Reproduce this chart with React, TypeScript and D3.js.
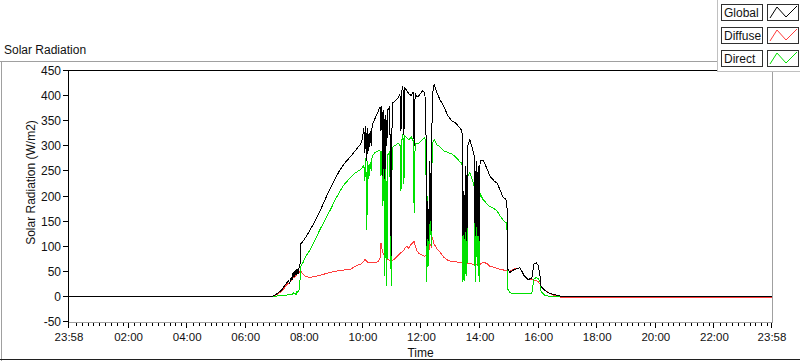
import React from 'react'
import * as d3 from 'd3'

// sample times, first entry 23:58 belongs to the previous day
const times = [
  '23:58', '06:50', '06:56', '07:00', '07:05', '07:10', '07:15', '07:20', '07:24', '07:27',
  '07:30', '07:33', '07:35', '07:37', '07:39', '07:41', '07:43', '07:45', '07:47', '07:49',
  '07:51', '07:53', '07:57', '08:03', '08:12', '08:22', '08:32', '08:42', '08:53', '09:03',
  '09:13', '09:23', '09:34', '09:44', '09:54', '09:58', '10:02', '10:04', '10:06', '10:08',
  '10:10', '10:12', '10:15', '10:17', '10:19', '10:25', '10:31', '10:35', '10:37', '10:39',
  '10:41', '10:43', '10:45', '10:47', '10:49', '10:51', '10:55', '10:58', '11:00', '11:04',
  '11:08', '11:12', '11:16', '11:18', '11:20', '11:22', '11:24', '11:26', '11:30', '11:34',
  '11:39', '11:43', '11:45', '11:47', '11:51', '11:55', '11:59', '12:03', '12:07', '12:09',
  '12:11', '12:13', '12:15', '12:17', '12:20', '12:22', '12:26', '12:32', '12:38', '12:46',
  '12:54', '13:02', '13:11', '13:19', '13:23', '13:25', '13:27', '13:29', '13:31', '13:33',
  '13:35', '13:39', '13:43', '13:48', '13:50', '13:52', '13:54', '13:56', '13:58', '14:00',
  '14:06', '14:14', '14:20', '14:29', '14:35', '14:41', '14:47', '14:51', '14:55', '14:57',
  '15:01', '15:07', '15:16', '15:22', '15:30', '15:38', '15:42', '15:46', '15:50', '15:55',
  '15:59', '16:03', '16:05', '16:13', '16:19', '16:27', '16:36', '16:44', '16:54', '23:58',
]

const globalRad = [
  0, 0, 1, 3, 6, 10, 15, 22, 27, 32,
  26, 38, 32, 48, 38, 52, 42, 54, 44, 56,
  60, 105, 110, 118, 133, 150, 170, 192, 215, 235,
  252, 266, 278, 290, 302, 310, 335, 285, 340, 270,
  335, 290, 330, 300, 342, 355, 368, 378, 330, 380,
  240, 372, 235, 362, 300, 372, 378, 80, 385, 388,
  392, 396, 402, 330, 410, 420, 322, 415, 410, 404,
  400, 408, 300, 405, 398, 400, 406, 410, 404, 360,
  100, 190, 110, 270, 130, 400, 422, 405, 392, 378,
  360, 350, 345, 335, 330, 120, 210, 115, 260, 110,
  300, 312, 300, 280, 120, 270, 120, 260, 110, 270,
  272, 255, 240, 230, 226, 212, 198, 195, 190, 54,
  48, 52, 56, 57, 42, 34, 35, 36, 64, 67,
  62, 40, 20, 12, 8, 5, 3, 1, 0, 0,
]

const diffuseRad = [
  0, 0, 1, 2, 5, 8, 12, 18, 24, 26,
  28, 32, 36, 40, 38, 40, 42, 46, 46, 48,
  50, 50, 45, 40, 38, 40, 42, 45, 48, 50,
  52, 53, 54, 60, 64, 66, 70, 74, 72, 70,
  68, 67, 67, 67, 67, 67, 70, 75, 107, 95,
  87, 84, 80, 78, 76, 74, 72, 78, 72, 74,
  78, 82, 86, 88, 88, 90, 92, 96, 100, 96,
  104, 108, 110, 102, 90, 86, 84, 82, 80, 82,
  78, 127, 90, 104, 100, 118, 104, 95, 88, 78,
  72, 70, 69, 68, 67, 66, 66, 65, 66, 65,
  66, 66, 65, 64, 64, 64, 64, 64, 64, 64,
  68, 66, 60, 58, 56, 54, 53, 52, 52, 52,
  50, 54, 56, 57, 42, 34, 34, 34, 33, 32,
  30, 24, 19, 13, 8, 4, 1, -1, -2, -2,
]

const directRad = [
  0, 0, 0, 0, 1, 1, 2, 2, 3, 4,
  3, 5, 4, 8, 5, 6, 4, 10, 8, 12,
  30, 60, 67, 80, 93, 113, 133, 152, 172, 192,
  210, 225, 236, 246, 252, 255, 262, 230, 275, 133,
  270, 235, 268, 250, 280, 287, 290, 292, 240, 290,
  180, 282, 40, 275, 20, 282, 288, 20, 297, 300,
  302, 305, 302, 210, 312, 323, 225, 320, 316, 312,
  318, 310, 167, 305, 304, 306, 310, 314, 318, 280,
  28, 200, 60, 250, 100, 305, 312, 302, 298, 290,
  287, 284, 277, 268, 265, 28, 150, 30, 200, 40,
  240, 247, 236, 220, 28, 210, 60, 200, 28, 205,
  193, 185, 179, 175, 170, 160, 153, 148, 147, 14,
  8, 6, 5, 5, 5, 5, 6, 6, 34, 38,
  36, 28, 10, 2, 1, 0, 0, 0, 0, 0,
]

const yTicks = [-50, 0, 50, 100, 150, 200, 250, 300, 350, 400, 450]
const xTickLabels = ['23:58', '02:00', '04:00', '06:00', '08:00', '10:00', '12:00',
  '14:00', '16:00', '18:00', '20:00', '22:00', '23:58']

const seriesNames = ['Global', 'Diffuse', 'Direct']
const seriesColors = ['#000000', '#ff3c3c', '#00e000']

const toMin = (s: string, i: number) => {
  const [h, m] = s.split(':').map(Number)
  const v = h * 60 + m
  return i === 0 && v > 1400 ? v - 1440 : v
}

const font = '"Liberation Sans", Arial, sans-serif'

export default function App() {
  const width = 800
  const height = 361
  const left = 69, right = 772, top = 71, bottom = 322

  const x = d3.scaleLinear().domain([-2, 1438]).range([left, right])
  const y = d3.scaleLinear().domain([-50, 450]).range([bottom, top])

  const tMin = times.map(toMin)
  const series = [globalRad, diffuseRad, directRad].map(vals =>
    vals.map((v, i) => ({ t: tMin[i], v })))

  const line = d3.line<{ t: number, v: number }>()
    .x(d => x(d.t))
    .y(d => y(d.v) - 0.4)

  const majorMin = xTickLabels.map((s, i) => (i === xTickLabels.length - 1 ? 1438 : toMin(s, i)))
  const minorMin = d3.range(12, 1438, 12).filter(m => m % 120 !== 0)

  // draw order: diffuse, direct, global on top
  const drawOrder = [1, 2, 0]

  return (
    <svg width={width} height={height} style={{ position: 'fixed', left: 0, top: 0, background: '#fff' }}
      fontFamily={font}>
      <rect x={0} y={0} width={width} height={height} fill="#fff" />

      {/* outer frame */}
      <line x1={0} x2={717} y1={61.5} y2={61.5} stroke="#a0a0a0" />
      <line x1={1.5} x2={1.5} y1={61} y2={361} stroke="#a0a0a0" />
      <line x1={0} x2={800} y1={359.5} y2={359.5} stroke="#202020" />
      <text x={4} y={54} fontSize={12} fill="#111">Solar Radiation</text>

      {/* plot lines */}
      <g shapeRendering="crispEdges">
        {drawOrder.map(k => (
          <path key={k} d={line(series[k]) || ''} fill="none" stroke={seriesColors[k]}
            strokeWidth={1} strokeLinejoin="miter" />
        ))}
      </g>

      {/* plot border */}
      <line x1={left - 0.5} x2={right} y1={top - 0.5} y2={top - 0.5} stroke="#000" />
      <line x1={left - 0.5} x2={left - 0.5} y1={top - 1} y2={bottom + 4} stroke="#000" />
      <line x1={right + 0.5} x2={right + 0.5} y1={top} y2={bottom + 1} stroke="#a0a0a0" />
      <line x1={left} x2={right + 1} y1={bottom + 0.5} y2={bottom + 0.5} stroke="#a0a0a0" />

      {/* y axis */}
      {yTicks.map(v => (
        <g key={v}>
          <line x1={left - 6} x2={left - 1} y1={Math.round(y(v)) - 0.5} y2={Math.round(y(v)) - 0.5} stroke="#000" />
          <text x={61} y={y(v)} fontSize={12} textAnchor="end" dominantBaseline="central" fill="#111">{v}</text>
        </g>
      ))}
      <text transform={`translate(35,${(top + bottom) / 2 - 14}) rotate(-90)`} fontSize={12}
        textAnchor="middle" fill="#111">Solar Radiation (W/m2)</text>

      {/* x axis */}
      {minorMin.map(m => (
        <line key={m} x1={Math.round(x(m)) + 0.5} x2={Math.round(x(m)) + 0.5} y1={bottom + 1} y2={bottom + 4} stroke="#000" />
      ))}
      {majorMin.map((m, i) => (
        <g key={i}>
          <line x1={Math.round(x(m)) - 0.5} x2={Math.round(x(m)) - 0.5} y1={bottom + 1} y2={bottom + 6} stroke="#000" />
          <text x={x(m)} y={341} fontSize={11.5} textAnchor="middle" fill="#111">{xTickLabels[i]}</text>
        </g>
      ))}
      <text x={(left + right) / 2} y={357} fontSize={12} textAnchor="middle" fill="#111">Time</text>

      {/* legend */}
      <rect x={717} y={0} width={83} height={72} fill="#fff" />
      <line x1={717.5} x2={717.5} y1={0} y2={72} stroke="#c0c0c0" />
      <line x1={717} x2={800} y1={71.5} y2={71.5} stroke="#c0c0c0" />
      {seriesNames.map((name, i) => {
        const ty = 4 + i * 23
        return (
          <g key={name}>
            <rect x={721.5} y={ty + 0.5} width={41} height={16} fill="#fff" stroke="#303030" />
            <text x={724} y={ty + 13} fontSize={12} fill="#111">{name}</text>
            <rect x={767.5} y={ty + 0.5} width={31} height={16} fill="#fff" stroke="#303030" />
            <path d={`M770,${ty + 14} L777,${ty + 3} L786,${ty + 13} L797,${ty + 2}`} fill="none"
              stroke={seriesColors[i]} strokeWidth={1} />
          </g>
        )
      })}
    </svg>
  )
}
